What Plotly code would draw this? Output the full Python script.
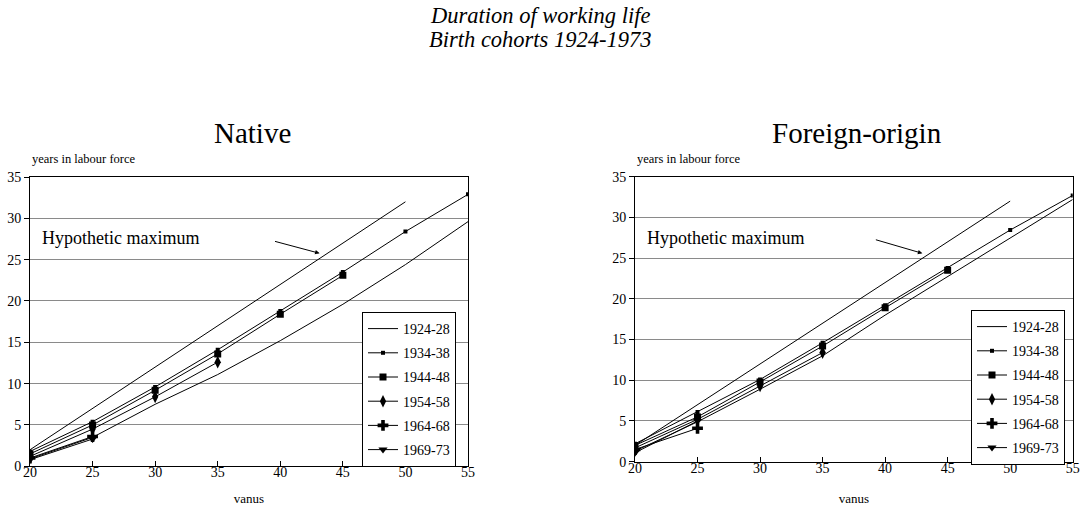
import plotly.graph_objects as go

PAGE_W, PAGE_H = 1080, 506
W, H = PAGE_W, PAGE_H


def px(xp):
    return xp / W


def py(yp):
    return (H - yp) / H


# ---------------- data ----------------
ages = [20, 25, 30, 35, 40, 45, 50, 55]
cohorts = ["1924-28", "1934-38", "1944-48", "1954-58", "1964-68", "1969-73"]

hyp_age = [20, 50]
hyp_years = [2, 32]

native_1924_28 = [0.9, 3.5, 7.5, 11.1, 15.2, 19.6, 24.4, 29.6]
native_1934_38 = [1.8, 5.4, 9.6, 14.1, 18.8, 23.5, 28.4, 32.9]
native_1944_48 = [1.5, 5.0, 9.2, 13.6, 18.4, 23.1]
native_1954_58 = [1.2, 4.5, 8.4, 12.6]
native_1964_68 = [1.0, 3.6]
native_1969_73 = [0.8, 3.3]

foreign_1924_28 = [1.3, 4.9, 8.9, 13.0, 18.0, 22.7, 27.5, 32.2]
foreign_1934_38 = [2.2, 6.1, 10.1, 14.6, 19.2, 23.8, 28.45, 32.7]
foreign_1944_48 = [2.0, 5.5, 9.8, 14.2, 18.9, 23.5]
foreign_1954_58 = [1.7, 5.2, 9.3, 13.4]
foreign_1964_68 = [1.5, 4.1]
foreign_1969_73 = [1.1, 5.0]

x_ticks = [20, 25, 30, 35, 40, 45, 50, 55]
y_ticks = [0, 5, 10, 15, 20, 25, 30, 35]

panel_titles = ["Native", "Foreign-origin"]
y_label = "years in labour force"
x_label = "vanus"
hyp_label = "Hypothetic maximum"

# ---------------- styling ----------------
SERIF = "Liberation Serif, Times New Roman, serif"
markers = [
    dict(mode="lines", marker=None),
    dict(mode="lines+markers", marker=dict(symbol="square", size=4)),
    dict(mode="lines+markers", marker=dict(symbol="square", size=7)),
    dict(mode="lines+markers", marker=dict(symbol="diamond-tall", size=9)),
    dict(mode="lines+markers", marker=dict(symbol="cross", size=9)),
    dict(mode="lines+markers", marker=dict(symbol="triangle-down", size=8)),
]

panels = [
    dict(series=[native_1924_28, native_1934_38, native_1944_48,
                 native_1954_58, native_1964_68, native_1969_73],
         xd=(30, 468), yd=(466.3, 177.0), xa="x", ya="y", legend="legend",
         leg=(362, 312), title_y=133, standoff=30,
         arrow=((39.46, 27.26), (43.14, 25.77))),
    dict(series=[foreign_1924_28, foreign_1934_38, foreign_1944_48,
                 foreign_1954_58, foreign_1964_68, foreign_1969_73],
         xd=(635, 1072.7), yd=(461.7, 176.7), xa="x2", ya="y2", legend="legend2",
         leg=(971, 310), title_y=133, standoff=25,
         arrow=((39.14, 27.31), (42.98, 25.59))),
]

fig = go.Figure()
annotations = []
layout = {}

for i, p in enumerate(panels):
    # hypothetic maximum line
    fig.add_trace(go.Scatter(x=hyp_age, y=hyp_years, mode="lines",
                             line=dict(color="black", width=1),
                             showlegend=False, xaxis=p["xa"], yaxis=p["ya"],
                             hoverinfo="skip"))
    for j, (name, vals) in enumerate(zip(cohorts, p["series"])):
        st = markers[j]
        kw = dict(x=ages[:len(vals)], y=vals, name=name, mode=st["mode"],
                  line=dict(color="black", width=1),
                  xaxis=p["xa"], yaxis=p["ya"], legend=p["legend"],
                  legendgroup=f"{p['legend']}_{j}")
        if st["marker"] is not None:
            kw["marker"] = dict(color="black", **st["marker"])
        fig.add_trace(go.Scatter(**kw))

    sfx = "" if i == 0 else "2"
    x0, x1 = p["xd"]
    yb, yt = p["yd"]
    layout["xaxis" + sfx] = dict(
        domain=[px(x0), px(x1)], range=[20, 55], tickvals=x_ticks,
        ticks="inside", ticklen=5, tickcolor="black", showline=True,
        linecolor="black", linewidth=1, mirror=True, showgrid=False,
        zeroline=False, automargin=False, anchor="y" + sfx,
        ticklabeloverflow="allow", ticklabelstandoff=-7,
        tickfont=dict(family=SERIF, size=14, color="black"),
        title=dict(text=x_label, font=dict(family=SERIF, size=13, color="black"),
                   standoff=p["standoff"]),
    )
    layout["yaxis" + sfx] = dict(
        domain=[py(yb), py(yt)], range=[0, 35], tickvals=y_ticks,
        ticks="outside", ticklen=5, tickcolor="black", showline=True,
        linecolor="black", linewidth=1, mirror=True, showgrid=True,
        gridcolor="#8a8a8a", gridwidth=1, zeroline=False, automargin=False,
        anchor="x" + sfx, ticklabeloverflow="allow",
        tickfont=dict(family=SERIF, size=14, color="black"),
    )
    # panel title
    annotations.append(dict(text=panel_titles[i], xref="paper", yref="paper",
                            x=px((x0 + x1) / 2 + 3), y=py(p["title_y"]),
                            xanchor="center", yanchor="middle", showarrow=False,
                            font=dict(family=SERIF, size=29, color="black")))
    # y-axis label
    annotations.append(dict(text=y_label, xref="paper", yref="paper",
                            x=px(x0), y=py(159), xanchor="left",
                            yanchor="middle", showarrow=False,
                            font=dict(family=SERIF, size=12.5, color="black")))
    # hypothetic maximum text
    annotations.append(dict(text=hyp_label, xref="paper", yref="paper",
                            x=px(x0 + 10), y=py(238), xanchor="left",
                            yanchor="middle", showarrow=False,
                            font=dict(family=SERIF, size=18, color="black")))
    # arrow
    (tx, ty), (hx, hy) = p["arrow"]
    annotations.append(dict(x=hx, y=hy, ax=tx, ay=ty, xref=p["xa"], yref=p["ya"],
                            axref=p["xa"], ayref=p["ya"], text="", showarrow=True,
                            arrowhead=2, arrowsize=0.9, arrowwidth=1,
                            arrowcolor="black"))
    lx, ly = p["leg"]
    layout[p["legend"]] = dict(
        x=px(lx), y=py(ly), xanchor="left", yanchor="top",
        bordercolor="black", borderwidth=1, bgcolor="white",
        font=dict(family=SERIF, size=14, color="black"),
        tracegroupgap=3, itemwidth=30,
    )

# main title
annotations.append(dict(text="<i>Duration of working life</i>", xref="paper", yref="paper",
                        x=px(540), y=py(15), xanchor="center", yanchor="middle",
                        showarrow=False, font=dict(family=SERIF, size=22.5, color="black")))
annotations.append(dict(text="<i>Birth cohorts 1924-1973</i>", xref="paper", yref="paper",
                        x=px(540), y=py(39), xanchor="center", yanchor="middle",
                        showarrow=False, font=dict(family=SERIF, size=22.5, color="black")))

fig.update_layout(
    template="none", width=W, height=H, autosize=False,
    margin=dict(l=0, r=0, t=0, b=0),
    paper_bgcolor="white", plot_bgcolor="white",
    annotations=annotations, showlegend=True,
    font=dict(family=SERIF, color="black"),
    **layout,
)

# remove the browser's default 8px body margin so the figure sits at (0, 0)
fig.write_html("out.html",
               config={"displayModeBar": False},
               post_script="document.body.style.margin='0';"
                           "document.body.style.overflow='hidden';")
